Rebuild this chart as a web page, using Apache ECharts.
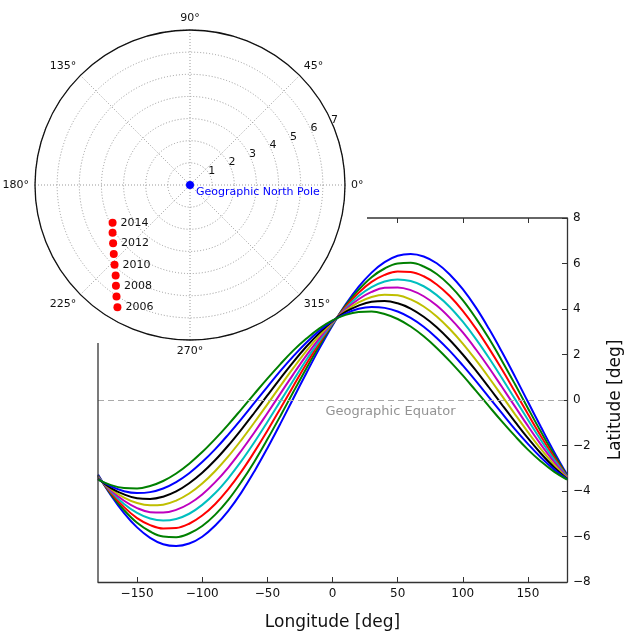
<!DOCTYPE html>
<html><head><meta charset="utf-8">
<script src="https://cdn.jsdelivr.net/npm/echarts@6/dist/echarts.min.js"></script>
<style>html,body{margin:0;padding:0;background:#fff}#c{width:624px;height:637px}</style>
</head><body><div id="c"></div>
<script>
// ---- data ----
const lon = [-180,-170,-160,-150,-140,-130,-120,-110,-100,-90,-80,-70,-60,-50,-40,-30,-20,-10,0,
             10,20,30,40,50,60,70,80,90,100,110,120,130,140,150,160,170,180];
const lat2006 = [-3.28,-4.19,-4.97,-5.60,-6.06,-6.34,-6.42,-6.31,-6.01,-5.52,-4.87,-4.07,-3.14,-2.12,-1.04,0.08,1.19,2.27,3.28,
                 4.19,4.97,5.60,6.06,6.34,6.42,6.31,6.01,5.52,4.87,4.07,3.14,2.12,1.04,-0.08,-1.19,-2.27,-3.28];
const lat2007 = [-3.32,-4.15,-4.84,-5.40,-5.78,-6.00,-6.03,-5.87,-5.54,-5.04,-4.39,-3.60,-2.71,-1.73,-0.70,0.36,1.40,2.40,3.32,
                 4.15,4.84,5.40,5.78,6.00,6.03,5.87,5.54,5.04,4.39,3.60,2.71,1.73,0.70,-0.36,-1.40,-2.40,-3.32];
const lat2008 = [-3.35,-4.09,-4.71,-5.19,-5.50,-5.65,-5.63,-5.44,-5.08,-4.57,-3.92,-3.15,-2.28,-1.35,-0.37,0.62,1.59,2.51,3.35,
                 4.09,4.71,5.19,5.50,5.65,5.63,5.44,5.08,4.57,3.92,3.15,2.28,1.35,0.37,-0.62,-1.59,-2.51,-3.35];
const lat2009 = [-3.37,-4.03,-4.57,-4.96,-5.21,-5.30,-5.23,-5.00,-4.61,-4.09,-3.44,-2.69,-1.86,-0.97,-0.05,0.87,1.77,2.61,3.37,
                 4.03,4.57,4.96,5.21,5.30,5.23,5.00,4.61,4.09,3.44,2.69,1.86,0.97,0.05,-0.87,-1.77,-2.61,-3.37];
const lat2010 = [-3.40,-3.98,-4.43,-4.75,-4.93,-4.95,-4.83,-4.56,-4.15,-3.61,-2.97,-2.23,-1.43,-0.58,0.28,1.14,1.96,2.72,3.40,
                 3.98,4.43,4.75,4.93,4.95,4.83,4.56,4.15,3.61,2.97,2.23,1.43,0.58,-0.28,-1.14,-1.96,-2.72,-3.40];
const lat2011 = [-3.43,-3.92,-4.29,-4.53,-4.63,-4.60,-4.42,-4.11,-3.67,-3.12,-2.48,-1.76,-0.99,-0.19,0.62,1.41,2.16,2.84,3.43,
                 3.92,4.29,4.53,4.63,4.60,4.42,4.11,3.67,3.12,2.48,1.76,0.99,0.19,-0.62,-1.41,-2.16,-2.84,-3.43];
const lat2012 = [-3.46,-3.87,-4.15,-4.32,-4.35,-4.25,-4.02,-3.66,-3.20,-2.64,-2.00,-1.30,-0.56,0.20,0.95,1.68,2.35,2.95,3.46,
                 3.87,4.15,4.32,4.35,4.25,4.02,3.66,3.20,2.64,2.00,1.30,0.56,-0.20,-0.95,-1.68,-2.35,-2.95,-3.46];
const lat2013 = [-3.48,-3.80,-4.01,-4.09,-4.05,-3.89,-3.61,-3.22,-2.73,-2.16,-1.52,-0.84,-0.13,0.58,1.28,1.93,2.53,3.05,3.48,
                 3.80,4.01,4.09,4.05,3.89,3.61,3.22,2.73,2.16,1.52,0.84,0.13,-0.58,-1.28,-1.93,-2.53,-3.05,-3.48];
const lat2014 = [-3.50,-3.74,-3.87,-3.89,-3.78,-3.56,-3.23,-2.80,-2.29,-1.71,-1.08,-0.41,0.27,0.94,1.58,2.18,2.70,3.15,3.50,
                 3.74,3.87,3.89,3.78,3.56,3.23,2.80,2.29,1.71,1.08,0.41,-0.27,-0.94,-1.58,-2.18,-2.70,-3.15,-3.50];
const years = [2006,2007,2008,2009,2010,2011,2012,2013,2014];
const poleR = [6.42,6.03,5.65,5.29,4.96,4.64,4.36,4.11,3.89];
const poleAngle = [239.3,236.6,233.7,230.6,226.6,222.1,217.2,211.7,206.0];
const northPole = [0, 0];
const xTicks = [-150,-100,-50,0,50,100,150];
const topTicks = [50,100,150];
const equatorLabelAt = [44.5, 0];
const colors = ['#0000ff','#008000','#ff0000','#00bfbf','#bf00bf','#bfbf00','#000000','#0000ff','#008000'];
const latSeries = [lat2006,lat2007,lat2008,lat2009,lat2010,lat2011,lat2012,lat2013,lat2014];

// ---- layout ----
const W = 624, H = 637;
const GL = 98, GR = 57, GT = 218, GB = 55;
const PC = [190, 185], PR = 155;
const F = 'DejaVu Sans';
const SPINE = '#333';
const neg = v => String(v).replace('-', '\u2212');

const chart = echarts.init(document.getElementById('c'), null, {renderer: 'canvas'});

const lineSeries = latSeries.map((arr, k) => ({
  type: 'line', name: String(years[k]), xAxisIndex: 0, yAxisIndex: 0,
  data: lon.map((x, i) => [x, arr[i]]),
  smooth: 0.4, showSymbol: false, symbol: 'none',
  lineStyle: {color: colors[k], width: 2}, z: 3,
  markLine: k === 0 ? {
    silent: true, symbol: 'none', label: {show: false},
    lineStyle: {color: '#aaa', type: [6, 4], width: 1},
    data: [{yAxis: 0}]
  } : undefined
}));

const option = {
  animation: false,
  backgroundColor: '#fff',
  textStyle: {fontFamily: F},
  grid: {left: GL, right: GR, top: GT, bottom: GB, show: false, containLabel: false, outerBoundsMode: 'none'},
  xAxis: [{
    type: 'value', min: -180, max: 180, position: 'bottom',
    axisLine: {show: true, onZero: false, lineStyle: {color: SPINE, width: 1.3}},
    axisTick: {show: true, inside: true, length: 5, customValues: xTicks, lineStyle: {color: SPINE}},
    axisLabel: {show: true, customValues: xTicks, color: '#111', fontSize: 12, margin: 6, formatter: neg},
    splitLine: {show: false},
    name: 'Longitude [deg]', nameLocation: 'middle', nameGap: 32,
    nameTextStyle: {fontSize: 17, color: '#111'}
  }, {
    type: 'value', min: -180, max: 180, position: 'top',
    axisLine: {show: false, onZero: false},
    axisTick: {show: true, inside: true, length: 5, customValues: topTicks, lineStyle: {color: SPINE}},
    axisLabel: {show: false}, splitLine: {show: false}
  }],
  yAxis: [{
    type: 'value', min: -8, max: 8, interval: 2, position: 'right',
    axisLine: {show: true, onZero: false, lineStyle: {color: SPINE, width: 1.3}},
    axisTick: {show: true, inside: true, length: 5, lineStyle: {color: SPINE}},
    axisLabel: {color: '#111', fontSize: 12, margin: 6, formatter: neg},
    splitLine: {show: false},
    name: 'Latitude [deg]', nameLocation: 'middle', nameGap: 40, nameRotate: 90,
    nameTextStyle: {fontSize: 17, color: '#111'}
  }],
  polar: [
    {center: PC, radius: PR},
    {center: PC, radius: PR}
  ],
  angleAxis: [{
    polarIndex: 0, type: 'value', min: 0, max: 360, interval: 45, startAngle: 0, clockwise: false,
    zlevel: 1, z: 1,
    axisLine: {show: true, lineStyle: {color: '#111', width: 1.3}},
    axisTick: {show: false},
    axisLabel: {color: '#111', fontSize: 11, margin: 6, formatter: v => v === 360 ? '' : v + '°'},
    splitLine: {show: true, lineStyle: {color: '#999', type: [1, 2], width: 1}}
  }, {
    polarIndex: 1, type: 'value', min: 0, max: 360, startAngle: 22.5, clockwise: false, show: false
  }],
  radiusAxis: [{
    polarIndex: 0, type: 'value', min: 0, max: 7, interval: 1, zlevel: 1, z: 1,
    axisLine: {show: false}, axisTick: {show: false}, axisLabel: {show: false},
    splitLine: {show: true, lineStyle: {color: '#999', type: [1, 2], width: 1}}
  }, {
    polarIndex: 1, type: 'value', min: 0, max: 7, interval: 1, zlevel: 1, z: 2,
    axisLine: {show: false}, axisTick: {show: false}, splitLine: {show: false},
    axisLabel: {show: true, color: '#111', fontSize: 11, margin: 6, align: 'left', showMinLabel: false}
  }],
  graphic: {elements: [
    {type: 'circle', zlevel: 1, z: 0, shape: {cx: PC[0], cy: PC[1], r: PR}, style: {fill: '#fff'}, silent: true},
    {type: 'line', z: 10, shape: {x1: 367, y1: GT, x2: W - GR, y2: GT}, style: {stroke: SPINE, lineWidth: 1.3}, silent: true},
    {type: 'line', z: 10, shape: {x1: GL, y1: 343, x2: GL, y2: H - GB}, style: {stroke: SPINE, lineWidth: 1.3}, silent: true}
  ]},
  series: [
    ...lineSeries,
    {
      type: 'scatter', xAxisIndex: 0, yAxisIndex: 0, data: [equatorLabelAt],
      symbolSize: 0, silent: true, z: 4,
      label: {show: true, position: 'bottom', distance: 5, formatter: 'Geographic Equator', color: '#777', fontSize: 13}
    },
    {
      type: 'scatter', coordinateSystem: 'polar', polarIndex: 0, zlevel: 1, z: 5,
      data: poleR.map((r, i) => [r, poleAngle[i], years[i]]),
      symbol: 'circle', symbolSize: 8, itemStyle: {color: '#ff0000', opacity: 1},
      label: {show: true, position: 'right', distance: 4, color: '#111', fontSize: 11,
        formatter: p => (p.value[2] % 2 === 0 ? String(p.value[2]) : '')}
    },
    {
      type: 'scatter', coordinateSystem: 'polar', polarIndex: 0, zlevel: 1, z: 5,
      data: [northPole], symbol: 'circle', symbolSize: 8, itemStyle: {color: '#0000ff', opacity: 1},
      label: {show: true, position: 'right', distance: 2, offset: [0, 7], color: '#0000ff', fontSize: 11,
        formatter: 'Geographic North Pole'}
    }
  ]
};
chart.setOption(option);
</script>
</body></html>
